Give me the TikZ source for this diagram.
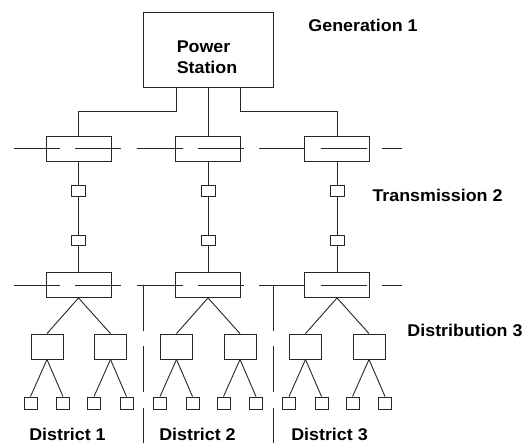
\documentclass[tikz,border=0pt]{standalone}
\usepackage{fontspec}
\setmainfont[FakeStretch=1.05]{Liberation Sans}
\begin{document}
\begin{tikzpicture}[x=1pt,y=-1pt,
  ln/.style={draw=black!85,line width=0.9pt},
  psbox/.style={ln,minimum width=130pt,minimum height=75pt,inner sep=0pt},
  tbox/.style={ln,minimum width=65pt,minimum height=25pt,inner sep=0pt},
  sqbox/.style={ln,minimum width=14pt,minimum height=10.5pt,inner sep=0pt},
  subbox/.style={ln,minimum width=32pt,minimum height=25pt,inner sep=0pt},
  leafbox/.style={ln,minimum width=13pt,minimum height=12pt,inner sep=0pt},
  lbl/.style={font=\fontsize{17}{21}\selectfont\bfseries,inner sep=0pt},
  bus/.style={ln,dash pattern=on 46pt off 15.3pt},
]
\useasboundingbox (0,0) rectangle (524,443);

% power station
\node[psbox] (P) at (208,49.5) {};
\node[lbl,align=left] (pt) at (207,57) {Power\\Station};

% level labels
\node[lbl] (g1) at (363,25) {Generation 1};
\node[lbl] (t2) at (437.5,195) {Transmission 2};
\node[lbl] (d3) at (465,330) {Distribution 3};
\node[lbl] (dl1) at (67.5,434) {District 1};
\node[lbl] (dl2) at (197.5,434) {District 2};
\node[lbl] (dl3) at (329.5,434) {District 3};

% columns
\foreach \i/\x in {1/78.5,2/208,3/337} {
  \node[tbox] (T\i) at (\x,148.5) {};
  \node[sqbox] (Sa\i) at (\x,191) {};
  \node[sqbox] (Sb\i) at (\x,240.5) {};
  \node[tbox] (D\i) at (\x,285) {};
  \draw[ln] (T\i.south) -- (Sa\i.north);
  \draw[ln] (Sa\i.south) -- (Sb\i.north);
  \draw[ln] (Sb\i.south) -- (D\i.north);
  \foreach \j/\dx in {1/-31.5,2/32} {
    \node[subbox] (U\i\j) at ({\x+(\dx)},346.5) {};
    \draw[ln] (D\i.south) -- (U\i\j.north);
    \foreach \k/\ex in {1/-16.5,2/16} {
      \node[leafbox] (L\i\j\k) at ({\x+(\dx)+(\ex)},403) {};
      \draw[ln] (U\i\j.south) -- (L\i\j\k.north);
    }
  }
}

% feeders from power station
\draw[ln] ([xshift=-32pt]P.south) -- ++(0,24) -| (T1.north);
\draw[ln] (P.south) -- (T2.north);
\draw[ln] ([xshift=32pt]P.south) -- ++(0,24) -| (T3.north);

% bus lines
\coordinate (bAs) at (14,148.5);
\coordinate (bAe) at (402,148.5);
\coordinate (bBs) at (14,285);
\coordinate (bBe) at (402,285);
\draw[bus] (bAs) -- (bAe);
\draw[bus] (bBs) -- (bBe);

% district separators
\coordinate (v1t) at (143.3,285);
\coordinate (v1b) at (143.3,443);
\coordinate (v2t) at (273.3,285);
\coordinate (v2b) at (273.3,443);
\draw[bus] (v1t) -- (v1b);
\draw[bus] (v2t) -- (v2b);
\end{tikzpicture}
\end{document}
